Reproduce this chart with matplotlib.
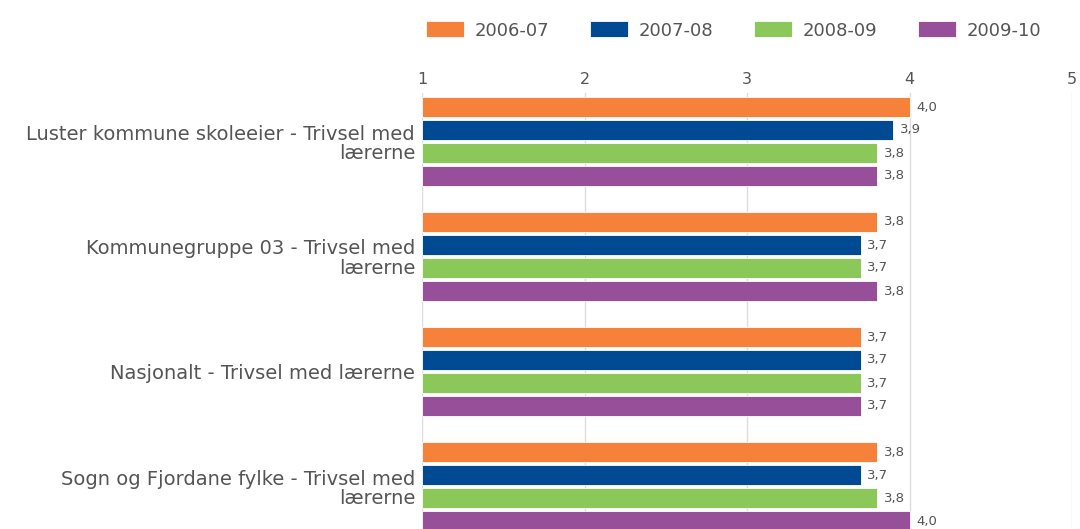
import numpy as np
import matplotlib
matplotlib.use('Agg')
from matplotlib import pyplot as plt

categories = ['Luster kommune skoleeier - Trivsel med\nlærerne',
              'Kommunegruppe 03 - Trivsel med\nlærerne',
              'Nasjonalt - Trivsel med lærerne',
              'Sogn og Fjordane fylke - Trivsel med\nlærerne']
years = ['2006-07', '2007-08', '2008-09', '2009-10']
v_2006_07 = [4.0, 3.8, 3.7, 3.8]
v_2007_08 = [3.9, 3.7, 3.7, 3.7]
v_2008_09 = [3.8, 3.7, 3.7, 3.8]
v_2009_10 = [3.8, 3.8, 3.7, 4.0]
series = [v_2006_07, v_2007_08, v_2008_09, v_2009_10]
colors = ['#F5813A', '#004A93', '#8CC859', '#984F9A']
grey = '#555555'

W, H = 1080, 529
fig = plt.figure(figsize=(W/100, H/100), dpi=100)
# plot area: value 1 at x=422 px, value 5 at x=1072 px, top at y=93 px
ax = fig.add_axes([422/W, 0, 650/W, (H - 93)/H])

pos = np.arange(len(categories))
pitch = 23/115
height = 20/115
for j, (vals, c, lab) in enumerate(zip(series, colors, years)):
    y = pos + (j - 1.5)*pitch
    ax.barh(y, np.array(vals) - 1, left=1, height=height, color=c,
            edgecolor='white', linewidth=0.6, label=lab, zorder=2)
    for yy, v in zip(y, vals):
        ax.text(v + 0.04, yy, f'{v:.1f}'.replace('.', ','), va='center',
                ha='left', fontsize=9.5, color=grey)

ax.set_xlim(1, 5)
top = -48.5/115
ax.set_ylim(top + (H - 93)/115, top)
ax.set_xticks([1, 2, 3, 4, 5])
ax.xaxis.tick_top()
ax.tick_params(axis='x', length=0, pad=4.5, labelsize=11.5, labelcolor=grey)
ax.set_yticks(pos)
ax.set_yticklabels(categories, fontsize=14, color=grey, linespacing=1.05)
ax.tick_params(axis='y', length=0, pad=5)
for lab in ax.get_yticklabels():
    lab.set_horizontalalignment('right')
for x in [1, 2, 3, 4, 5]:
    ax.axvline(x, color='#dddddd', linewidth=1, zorder=1)
for s in ax.spines.values():
    s.set_visible(False)

fig.legend(loc='upper right', bbox_to_anchor=(1057/W, 1 - 5/H), ncol=4,
           frameon=False, fontsize=13, handlelength=2.1, handleheight=1.0,
           handletextpad=0.55, columnspacing=2.3, labelcolor=grey)

fig.savefig('out.png', dpi=100)
